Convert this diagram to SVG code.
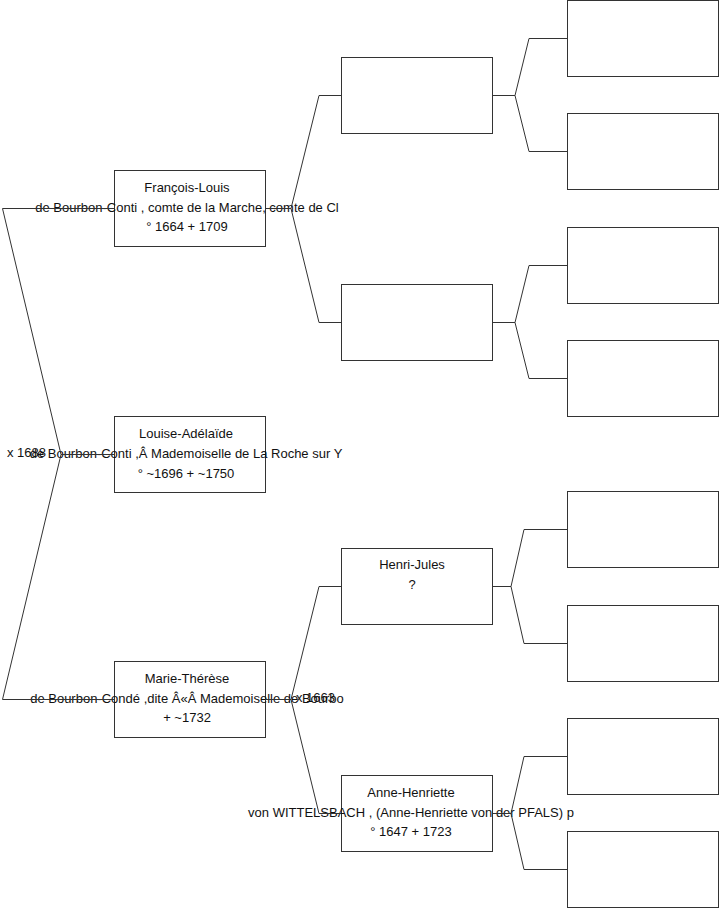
<svg xmlns="http://www.w3.org/2000/svg" width="719" height="908" viewBox="0 0 719 908">
<style>
.box{fill:#fff;stroke:#333;stroke-width:1}
.t{font-family:"Liberation Sans",Arial,sans-serif;font-size:13px;fill:#111}
.c1{text-anchor:middle}
.lbl{text-anchor:start}
.con{fill:none;stroke:#333;stroke-width:1}
</style>
<rect width="719" height="908" fill="#fff"/>
<g id="nodes">
<g id="n-francois-louis">
<rect class="box" x="114.5" y="170.5" width="151" height="76"/>
<text class="t c1" x="187" y="192">François-Louis</text>
<text class="t c1" x="187" y="212">de Bourbon-Conti , comte de la Marche, comte de Cl</text>
<text class="t c1" x="187" y="231">° 1664 + 1709</text>
</g>
<g id="n-louise-adelaide">
<rect class="box" x="114.5" y="416.5" width="151" height="76"/>
<text class="t c1" x="186" y="438">Louise-Adélaïde</text>
<text class="t c1" x="186" y="458">de Bourbon-Conti ,Â Mademoiselle de La Roche sur Y</text>
<text class="t c1" x="186" y="478">° ~1696 + ~1750</text>
</g>
<g id="n-marie-therese">
<rect class="box" x="114.5" y="661.5" width="151" height="76"/>
<text class="t c1" x="187" y="683">Marie-Thérèse</text>
<text class="t c1" x="187" y="703">de Bourbon-Condé ,dite Â«Â Mademoiselle de Bourbo</text>
<text class="t c1" x="187" y="722">+ ~1732</text>
</g>
<g id="n-p1">
<rect class="box" x="341.5" y="57.5" width="151" height="76"/>
</g>
<g id="n-p2">
<rect class="box" x="341.5" y="284.5" width="151" height="76"/>
</g>
<g id="n-henri-jules">
<rect class="box" x="341.5" y="548.5" width="151" height="76"/>
<text class="t c1" x="412" y="569">Henri-Jules</text>
<text class="t c1" x="412" y="589">?</text>
</g>
<g id="n-anne-henriette">
<rect class="box" x="341.5" y="775.5" width="151" height="76"/>
<text class="t c1" x="411" y="797">Anne-Henriette</text>
<text class="t c1" x="411" y="817">von WITTELSBACH , (Anne-Henriette von der PFALS) p</text>
<text class="t c1" x="411" y="836">° 1647 + 1723</text>
</g>
<g id="n-g1"><rect class="box" x="567.5" y="0.5" width="151" height="76"/></g>
<g id="n-g2"><rect class="box" x="567.5" y="113.5" width="151" height="76"/></g>
<g id="n-g3"><rect class="box" x="567.5" y="227.5" width="151" height="76"/></g>
<g id="n-g4"><rect class="box" x="567.5" y="340.5" width="151" height="76"/></g>
<g id="n-g5"><rect class="box" x="567.5" y="491.5" width="151" height="76"/></g>
<g id="n-g6"><rect class="box" x="567.5" y="605.5" width="151" height="76"/></g>
<g id="n-g7"><rect class="box" x="567.5" y="718.5" width="151" height="76"/></g>
<g id="n-g8"><rect class="box" x="567.5" y="831.5" width="151" height="76"/></g>
</g>
<g id="connectors">
<polyline class="con" points="114,208.5 2.5,208.5 61,454.5 2.5,699.5 114,699.5"/>
<line class="con" x1="61" y1="454.5" x2="114" y2="454.5"/>
<polyline class="con" points="341,95.5 319,95.5 291,208.5 319,322.5 341,322.5"/>
<line class="con" x1="265" y1="208.5" x2="291" y2="208.5"/>
<polyline class="con" points="341,586.5 319,586.5 291,699.5 319,813.5 341,813.5"/>
<line class="con" x1="265" y1="699.5" x2="291" y2="699.5"/>
<polyline class="con" points="567,38.5 529,38.5 515,95.5 529,151.5 567,151.5"/>
<line class="con" x1="492" y1="95.5" x2="515" y2="95.5"/>
<polyline class="con" points="567,265.5 529,265.5 515,322.5 529,378.5 567,378.5"/>
<line class="con" x1="492" y1="322.5" x2="515" y2="322.5"/>
<polyline class="con" points="567,529.5 524,529.5 511,586.5 524,643.5 567,643.5"/>
<line class="con" x1="492" y1="586.5" x2="511" y2="586.5"/>
<polyline class="con" points="567,756.5 524,756.5 511,813.5 524,869.5 567,869.5"/>
<line class="con" x1="492" y1="813.5" x2="511" y2="813.5"/>
</g>
<g id="labels">
<text class="t lbl" x="7" y="457">x 1688</text>
<text class="t lbl" x="296" y="702">x 1663</text>
</g>
</svg>
